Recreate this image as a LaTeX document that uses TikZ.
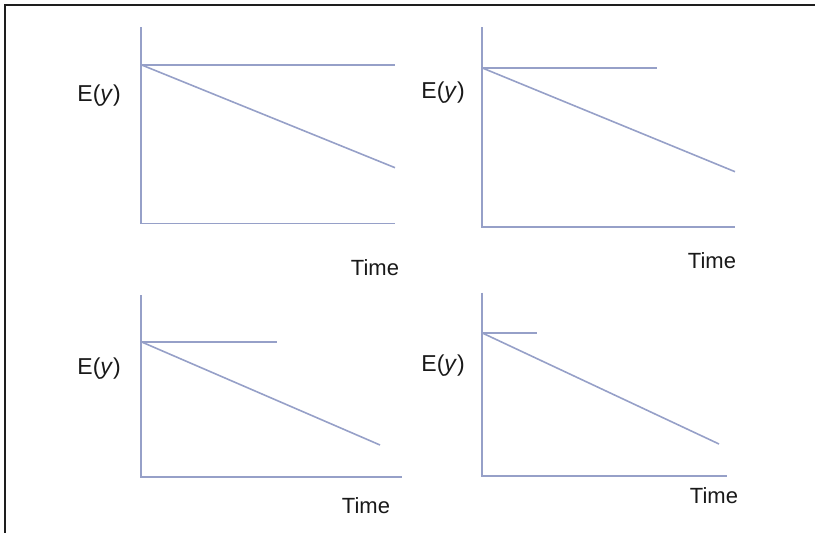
\documentclass[tikz,border=0pt]{standalone}
\usepackage{fontspec}
\setmainfont{Liberation Sans}
\definecolor{axisblue}{RGB}{150,160,200}
\definecolor{frameblack}{RGB}{30,30,30}
\tikzset{
  axisline/.style={draw=axisblue, line width=1.6pt},
  ylab/.style={anchor=base east, inner sep=0pt, font=\fontsize{23}{26}\selectfont, text=black!90},
  tlab/.style={anchor=base, inner sep=0pt, font=\fontsize{22}{25}\selectfont, text=black!90},
  frameline/.style={draw=frameblack, line width=2pt}
}
\begin{document}
\begin{tikzpicture}[x=1pt,y=-1pt]
\useasboundingbox (0,0) rectangle (815,533);
% frame (left and top edges)
\coordinate (fl) at (5,533);
\coordinate (fc) at (5,5);
\coordinate (fr) at (815,5);
\draw[frameline] (fl) -- (fc) -- (fr);

% panel 1
\coordinate (a1t) at (141,27);
\coordinate (a1o) at (141,223.3);
\coordinate (a1x) at (395,223.3);
\coordinate (a1s) at (141,64.7);
\coordinate (a1h) at (395,64.7);
\coordinate (a1d) at (395,167.7);
\draw[axisline] (a1t) -- (a1o) -- (a1x);
\draw[axisline] (a1s) -- (a1h);
\draw[axisline] (a1s) -- (a1d);
\node[ylab] (e1) at (121,101.5) {E(\textit{y})};
\node[tlab] (t1) at (375,275) {Time};

% panel 2
\coordinate (a2t) at (481.7,27);
\coordinate (a2o) at (481.7,226.7);
\coordinate (a2x) at (735,226.7);
\coordinate (a2s) at (481.7,67.7);
\coordinate (a2h) at (656.7,67.7);
\coordinate (a2d) at (735,171.7);
\draw[axisline] (a2t) -- (a2o) -- (a2x);
\draw[axisline] (a2s) -- (a2h);
\draw[axisline] (a2s) -- (a2d);
\node[ylab] (e2) at (465,98) {E(\textit{y})};
\node[tlab] (t2) at (712,268.3) {Time};

% panel 3
\coordinate (a3t) at (141,295);
\coordinate (a3o) at (141,476.7);
\coordinate (a3x) at (401.7,476.7);
\coordinate (a3s) at (141,341.7);
\coordinate (a3h) at (276.7,341.7);
\coordinate (a3d) at (380,445);
\draw[axisline] (a3t) -- (a3o) -- (a3x);
\draw[axisline] (a3s) -- (a3h);
\draw[axisline] (a3s) -- (a3d);
\node[ylab] (e3) at (121,374.5) {E(\textit{y})};
\node[tlab] (t3) at (366,513.3) {Time};

% panel 4
\coordinate (a4t) at (481.7,292.7);
\coordinate (a4o) at (481.7,476);
\coordinate (a4x) at (726.7,476);
\coordinate (a4s) at (481.7,332.7);
\coordinate (a4h) at (537,332.7);
\coordinate (a4d) at (719,444);
\draw[axisline] (a4t) -- (a4o) -- (a4x);
\draw[axisline] (a4s) -- (a4h);
\draw[axisline] (a4s) -- (a4d);
\node[ylab] (e4) at (465,371.7) {E(\textit{y})};
\node[tlab] (t4) at (714,503.3) {Time};
\end{tikzpicture}
\end{document}
